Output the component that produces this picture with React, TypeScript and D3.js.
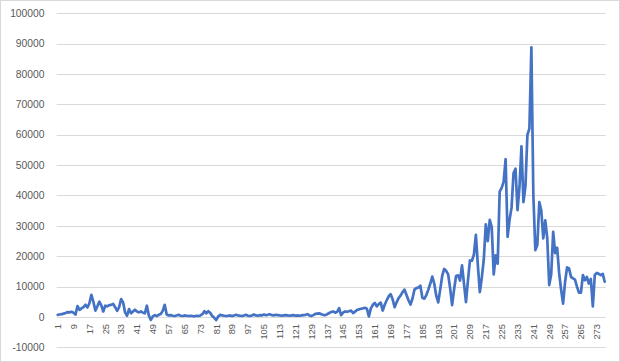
import { useEffect, useRef } from "react";
import * as d3 from "d3";

// values, one per category (1..277)
const earlyValues = [
  700, 800, 900, 1100, 1300, 1600, 1500, 1700, 1400, 800,
  3600, 2300, 2800, 3200, 4000, 3100, 4500, 7300, 5000, 2100,
  3500, 5000, 3800, 1800, 3700, 3500, 3900, 4000, 4300, 3200,
  2000, 3200, 5900, 4800, 1500, 400, 2600, 1200, 1800, 2400,
  1800, 1500, 1800, 1400, 1200, 3700, 500, -1000, 200, 600,
  300, 700, 1000, 2000, 4000, 800, 500, 600, 400, 300,
  500, 700, 400, 300, 500,
];

const flatValues = [
  400, 300, 400, 300, 200, 400, 300, 500, 900, 1900,
  1200, 1900, 1300, 300, -300, -1000, 200, 700, 500, 400,
  300, 400, 500, 300, 500, 700, 500, 400, 300, 500,
  700, 400, 300, 500, 800, 500, 400, 600, 500, 800,
  600, 700, 900, 600, 500, 700, 600, 500, 400, 500,
  600, 500, 400, 500, 600, 400, 500, 400, 500, 600,
  700, 900, 500, 300, 600,
];

const risingValues = [
  1000, 1100, 1200, 900, 700, 600, 900, 1300, 1600, 1800,
  1400, 1700, 2900, 600, 1400, 1800, 1700, 1900, 2100, 1300,
  1700, 2300, 2500, 2700, 2800, 3000, 2700, 200, 2800, 4000,
  4600, 3500, 4200, 4700, 2100, 4000, 5500, 6800, 7500, 5800,
  3200, 4800, 6200, 7000, 8200, 9000, 7200, 5500, 4100, 6000,
  9000, 9500, 9700, 10300, 6300, 6000, 7200, 9000, 11000, 13300,
  11000, 7000, 4800, 9000, 13500,
];

const peakValues = [
  15800, 15200, 14000, 9500, 3900, 9000, 13500, 13700, 12000, 17000,
  11000, 4900, 12000, 18600, 18500, 20500, 27000, 17000, 8200, 13000,
  19000, 30500, 25000, 32000, 29500, 14000, 20300, 17500, 41300, 42500,
  44500, 52000, 26400, 32000, 36000, 47400, 48800, 35200, 42800, 56200,
  37800, 43000, 60000, 62000, 88800, 40000, 22000, 23700, 37800, 35000,
  25900, 31800, 26000, 10500, 14000, 28000, 21000, 22800, 14500, 9000,
  4400, 11500, 16300, 16000, 13200, 12700, 12300, 10000, 8000, 8000,
  13800, 12100, 13200, 11000, 12500, 3500, 13800, 14500, 14200, 13800,
  14200, 11600,
];

const values = [...earlyValues, ...flatValues, ...risingValues, ...peakValues];
const categories = values.map((_, i) => String(i + 1));
const yTicks = [-10000, 0, 10000, 20000, 30000, 40000, 50000, 60000, 70000, 80000, 90000, 100000];

function LineChart() {
  const chartRef = useRef<SVGSVGElement>(null);

  useEffect(() => {
    const svg = d3.select(chartRef.current);
    svg.selectAll("*").remove();

    const width = 620;
    const height = 362;
    const plot = { left: 56.7, right: 605.7, top: 13.3, bottom: 347.3 };

    const x = d3
      .scalePoint<string>()
      .domain(categories)
      .range([plot.left, plot.right])
      .padding(0.5);

    const y = d3
      .scaleLinear()
      .domain([-10000, 100000])
      .range([plot.bottom, plot.top]);

    // chart border
    svg
      .append("rect")
      .attr("x", 0.5)
      .attr("y", 0.5)
      .attr("width", width - 1)
      .attr("height", height - 1)
      .attr("fill", "#fff")
      .attr("stroke", "#d9d9d9");

    // gridlines
    svg
      .append("g")
      .selectAll("line")
      .data(yTicks)
      .enter()
      .append("line")
      .attr("x1", plot.left)
      .attr("x2", plot.right)
      .attr("y1", (d) => Math.round(y(d)) + 0.5)
      .attr("y2", (d) => Math.round(y(d)) + 0.5)
      .attr("stroke", "#d9d9d9")
      .attr("stroke-width", 1);

    // y labels
    svg
      .append("g")
      .selectAll("text")
      .data(yTicks)
      .enter()
      .append("text")
      .attr("x", 44.5)
      .attr("y", (d) => y(d))
      .attr("dy", "0.36em")
      .attr("text-anchor", "end")
      .attr("font-family", "Liberation Sans, Arial, sans-serif")
      .attr("font-size", "10.3px")
      .attr("fill", "#595959")
      .text((d) => String(d));

    // x labels, every 8th category, rotated
    svg
      .append("g")
      .selectAll("text")
      .data(categories.filter((_, i) => i % 8 === 0))
      .enter()
      .append("text")
      .attr("transform", (d) => `translate(${x(d)},${y(0) + 7}) rotate(-90)`)
      .attr("dy", "0.35em")
      .attr("text-anchor", "end")
      .attr("font-family", "Liberation Sans, Arial, sans-serif")
      .attr("font-size", "9.4px")
      .attr("fill", "#595959")
      .text((d) => d);

    // the series
    const line = d3
      .line<number>()
      .x((_, i) => x(categories[i]) as number)
      .y((d) => y(d));

    svg
      .append("path")
      .datum(values)
      .attr("d", line)
      .attr("fill", "none")
      .attr("stroke", "#4472c4")
      .attr("stroke-width", 2.7)
      .attr("stroke-linejoin", "round")
      .attr("stroke-linecap", "round");
  }, []);

  return (
    <svg
      ref={chartRef}
      width={620}
      height={362}
      style={{ position: "absolute", left: 0, top: 0 }}
    />
  );
}

export default function App() {
  return <LineChart />;
}
